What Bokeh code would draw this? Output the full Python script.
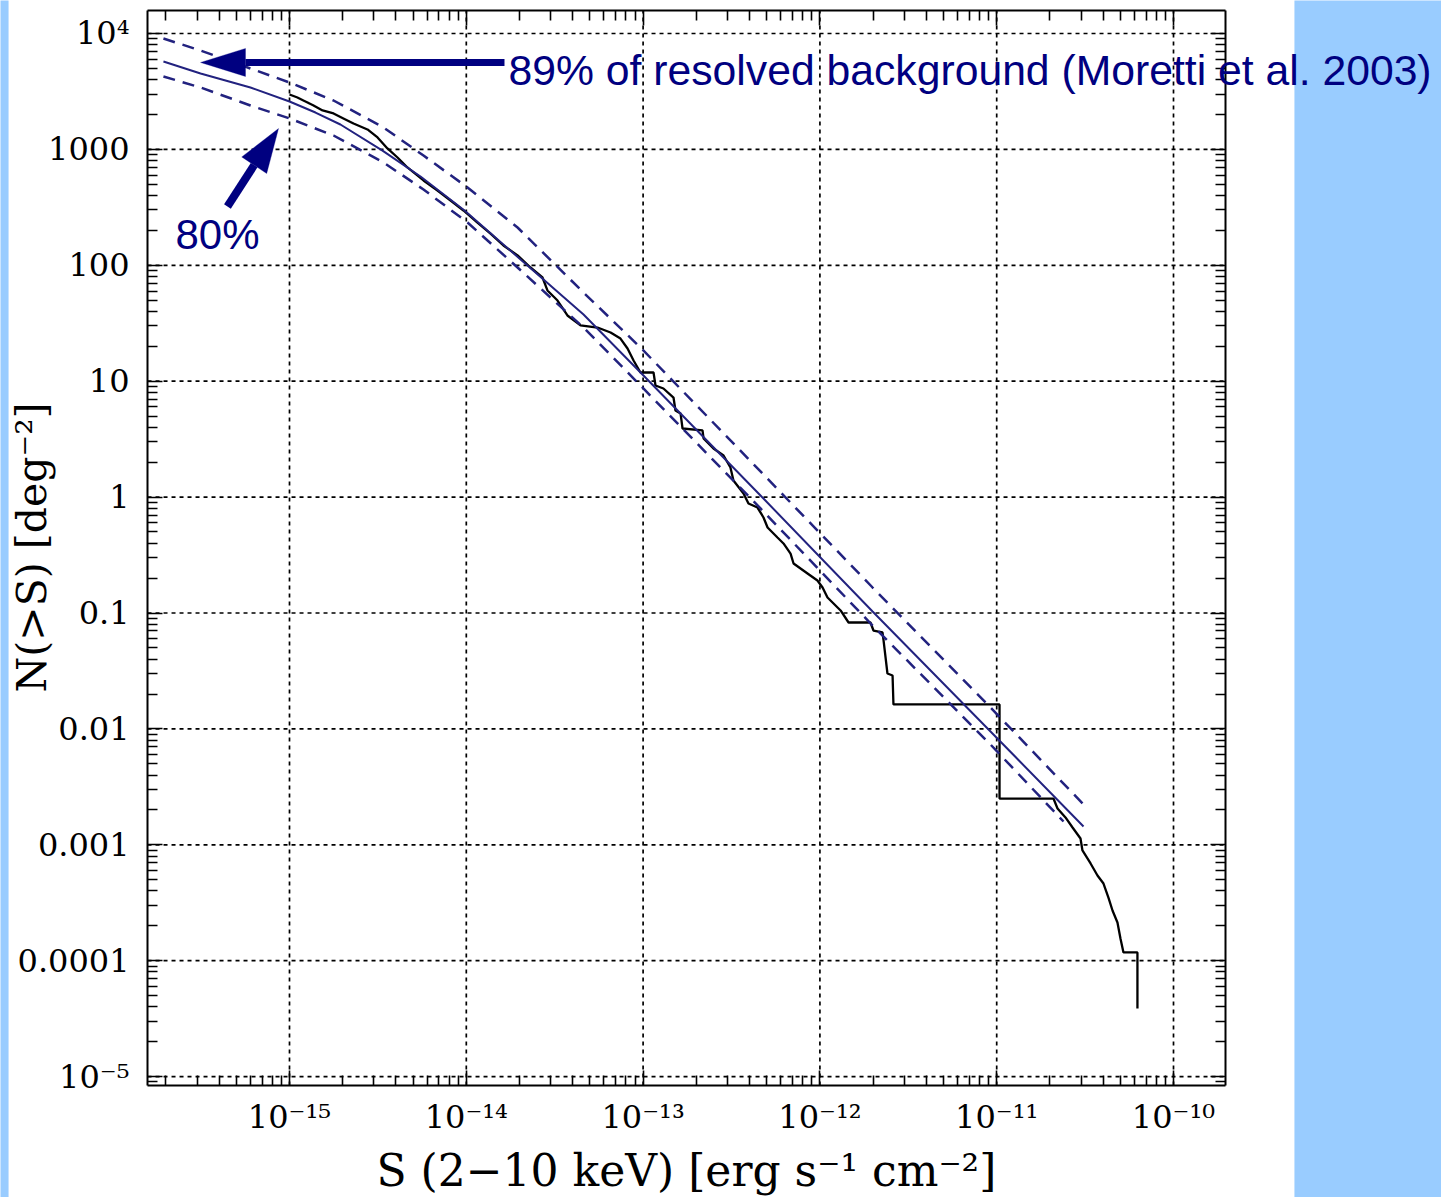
import numpy as np
from math import pi
from bokeh.plotting import figure
from bokeh.models import (Range1d, LogAxis, FixedTicker, CustomJSTickFormatter, Label,
                          PolyAnnotation, Arrow)
from bokeh.embed import file_html
from bokeh.resources import INLINE

# ---------------- data (log10 values) ----------------
data_log_s = [-15.000, -14.955, -14.921, -14.864, -14.813, -14.751, -14.695, -14.638, -14.559, -14.502,
              -14.446, -14.389, -14.333, -14.242, -14.163, -14.089, -14.016, -13.937, -13.863, -13.790,
              -13.710, -13.637, -13.569, -13.541, -13.484, -13.428, -13.354, -13.258, -13.184, -13.128,
              -13.088, -13.054, -13.015, -12.941, -12.930, -12.885, -12.828, -12.817, -12.788, -12.777,
              -12.664, -12.658, -12.602, -12.545, -12.506, -12.489, -12.432, -12.404, -12.353, -12.319,
              -12.296, -12.240, -12.206, -12.166, -12.149, -12.070, -12.014, -11.985, -11.957, -11.883,
              -11.838, -11.714, -11.697, -11.646, -11.640, -11.618, -11.589, -11.584, -10.984, -10.984,
              -10.679, -10.656, -10.611, -10.571, -10.526, -10.515, -10.469, -10.430, -10.396, -10.368,
              -10.345, -10.317, -10.300, -10.283, -10.204, -10.204]
data_log_n = [3.474, 3.448, 3.422, 3.379, 3.336, 3.310, 3.267, 3.223, 3.172, 3.103,
              3.008, 2.930, 2.844, 2.732, 2.645, 2.559, 2.473, 2.369, 2.274, 2.171,
              2.085, 1.981, 1.895, 1.783, 1.696, 1.567, 1.481, 1.463, 1.420, 1.368,
              1.282, 1.179, 1.075, 1.075, 0.963, 0.937, 0.859, 0.747, 0.721, 0.592,
              0.575, 0.506, 0.419, 0.359, 0.255, 0.143, 0.031, -0.055, -0.090, -0.176,
              -0.262, -0.349, -0.400, -0.487, -0.573, -0.659, -0.720, -0.780, -0.866, -0.978,
              -1.082, -1.082, -1.151, -1.168, -1.237, -1.522, -1.539, -1.789, -1.789, -2.601,
              -2.601, -2.687, -2.764, -2.851, -2.946, -3.049, -3.161, -3.265, -3.334, -3.455,
              -3.567, -3.670, -3.808, -3.929, -3.929, -4.412]

model_log_s = [-15.713, -15.503, -15.221, -15.000, -14.853, -14.712, -14.474, -14.259, -14.010, -13.654,
               -13.337, -13.009, -12.336, -11.702, -11.035, -10.509]
model_log_n = [3.758, 3.655, 3.534, 3.413, 3.318, 3.215, 2.990, 2.766, 2.473, 1.998,
               1.576, 1.066, 0.014, -0.987, -2.022, -2.842]

upper_log_s = [-15.713, -15.503, -15.000, -14.751, -14.468, -14.242, -13.993, -13.710, -13.337,
               -13.009, -12.336, -11.702, -11.035, -10.509]
upper_log_n = [3.957, 3.853, 3.577, 3.422, 3.189, 2.947, 2.671, 2.326, 1.765,
               1.282, 0.221, -0.780, -1.815, -2.652]

lower_log_s = [-15.713, -15.503, -15.221, -15.000, -14.751, -14.468, -14.242, -13.993, -13.710,
               -13.337, -13.009, -12.336, -11.702, -11.035, -10.622]
lower_log_n = [3.629, 3.534, 3.379, 3.267, 3.120, 2.887, 2.654, 2.369, 1.981,
               1.463, 0.954, -0.098, -1.108, -2.135, -2.799]

x_tick_exps = [-15, -14, -13, -12, -11, -10]
x_tick_labels = ["10⁻¹⁵", "10⁻¹⁴", "10⁻¹³", "10⁻¹²", "10⁻¹¹", "10⁻¹⁰"]
y_tick_exps = [-5, -4, -3, -2, -1, 0, 1, 2, 3, 4]
y_tick_labels = ["10⁻⁵", "0.0001", "0.001", "0.01", "0.1", "1", "10", "100", "1000", "10⁴"]

x_title = "S (2−10 keV) [erg s⁻¹ cm⁻²]"
y_title = "N(>S) [deg⁻²]"
note_main = "89% of resolved background (Moretti et al. 2003)"
note_small = "80%"

# ---------------- layout / styles ----------------
NAVY = "#000080"
LINE_BLUE = "#22227f"
PAGE_BLUE = "#99ccff"
SERIF = "DejaVu Serif"

# axes box (log10 of the data limits of the drawn box)
BOX_X = (-15.803, -9.706)
BOX_Y = (-5.077, 4.198)
# full canvas extent in log10 data units (the frame fills the canvas)
CAN_X = (-16.6346, -8.4842)
CAN_Y = (-6.0431, 4.2847)

p = figure(width=1441, height=1197, x_axis_type="log", y_axis_type="log",
           x_range=Range1d(10 ** CAN_X[0], 10 ** CAN_X[1]),
           y_range=Range1d(10 ** CAN_Y[0], 10 ** CAN_Y[1]),
           output_backend="svg", toolbar_location=None,
           min_border=0, min_border_left=0, min_border_right=0, min_border_top=0, min_border_bottom=0)
p.border_fill_color = "white"
p.background_fill_color = "white"
p.outline_line_color = None
p.xgrid.visible = False
p.ygrid.visible = False

# page side strips
p.quad(left=[10 ** (CAN_X[0] - 0.2), 10 ** -9.316], right=[10 ** -16.589, 10 ** (CAN_X[1] + 0.2)],
       bottom=[10 ** (CAN_Y[0] - 0.2)] * 2, top=[10 ** (CAN_Y[1] + 0.2)] * 2,
       fill_color=PAGE_BLUE, line_color=None, level="underlay")

xlo, xhi = 10 ** BOX_X[0], 10 ** BOX_X[1]
ylo, yhi = 10 ** BOX_Y[0], 10 ** BOX_Y[1]
x_minor = [v for v in (m * 10.0 ** k for k in range(-16, -9) for m in range(2, 10)) if xlo < v < xhi]
y_minor = [v for v in (m * 10.0 ** k for k in range(-6, 5) for m in range(2, 10)) if ylo < v < yhi]
x_ticker = FixedTicker(ticks=[10.0 ** e for e in x_tick_exps], minor_ticks=x_minor)
y_ticker = FixedTicker(ticks=[10.0 ** e for e in y_tick_exps], minor_ticks=y_minor)

fmt_code = """
const e = Math.round(Math.log10(tick));
const i = exps.indexOf(e);
return i >= 0 ? labels[i] : "";
"""
x_fmt = CustomJSTickFormatter(args=dict(exps=x_tick_exps, labels=x_tick_labels), code=fmt_code)
y_fmt = CustomJSTickFormatter(args=dict(exps=y_tick_exps, labels=y_tick_labels), code=fmt_code)
blank_fmt = CustomJSTickFormatter(code="return '';")

# dashed grid lines, limited to the axes box
gx = [10.0 ** e for e in x_tick_exps]
gy = [10.0 ** e for e in y_tick_exps]
p.segment(x0=gx, x1=gx, y0=[ylo] * len(gx), y1=[yhi] * len(gx),
          line_color="black", line_width=1.7, line_dash="4 4", level="underlay")
p.segment(x0=[xlo] * len(gy), x1=[xhi] * len(gy), y0=gy, y1=gy,
          line_color="black", line_width=1.7, line_dash="4 4", level="underlay")


def style_axis(ax, show, loc, bounds):
    ax.fixed_location = loc
    ax.bounds = bounds
    ax.axis_line_width = 2
    ax.axis_line_color = "black"
    ax.major_tick_in = 15
    ax.major_tick_out = 0
    ax.minor_tick_in = 10
    ax.minor_tick_out = 0
    ax.major_tick_line_width = 1.6
    ax.minor_tick_line_width = 1.6
    ax.major_tick_line_color = "black"
    ax.minor_tick_line_color = "black"
    if show:
        ax.major_label_text_font = SERIF
        ax.major_label_text_font_size = "32px"
        ax.major_label_text_color = "black"
    else:
        ax.major_label_text_font_size = "0px"
        ax.major_label_standoff = 0


xa = p.xaxis[0]
xa.ticker = x_ticker
xa.formatter = x_fmt
style_axis(xa, True, ylo, (xlo, xhi))
xa.major_label_standoff = 12

ya = p.yaxis[0]
ya.ticker = y_ticker
ya.formatter = y_fmt
style_axis(ya, True, xlo, (ylo, yhi))
ya.major_label_standoff = 18

top_ax = LogAxis(ticker=x_ticker, formatter=blank_fmt)
style_axis(top_ax, False, yhi, (xlo, xhi))
p.add_layout(top_ax, "above")
right_ax = LogAxis(ticker=y_ticker, formatter=blank_fmt)
style_axis(right_ax, False, xhi, (ylo, yhi))
p.add_layout(right_ax, "right")

# ---------------- curves ----------------
p.line(10 ** np.array(data_log_s), 10 ** np.array(data_log_n), line_color="black", line_width=2.3)
p.line(10 ** np.array(model_log_s), 10 ** np.array(model_log_n), line_color=LINE_BLUE, line_width=2)
p.line(10 ** np.array(upper_log_s), 10 ** np.array(upper_log_n), line_color=LINE_BLUE, line_width=2.5,
       line_dash="12 8")
p.line(10 ** np.array(lower_log_s), 10 ** np.array(lower_log_n), line_color=LINE_BLUE, line_width=2.5,
       line_dash="12 8")

# ---------------- annotations ----------------
p.add_layout(Arrow(end=None, x_start=10 ** -13.784, y_start=10 ** 3.75,
                   x_end=10 ** -15.249, y_end=10 ** 3.75, line_width=7, line_color=NAVY))
p.add_layout(PolyAnnotation(xs=[10 ** -15.503, 10 ** -15.249, 10 ** -15.249],
                            ys=[10 ** 3.75, 10 ** 3.871, 10 ** 3.629],
                            fill_color=NAVY, fill_alpha=1.0, line_color=NAVY, line_width=1))
p.add_layout(Arrow(end=None, x_start=10 ** -15.351, y_start=10 ** 2.507,
                   x_end=10 ** -15.200, y_end=10 ** 2.864, line_width=8, line_color=NAVY))
p.add_layout(PolyAnnotation(xs=[10 ** -15.062, 10 ** -15.129, 10 ** -15.270],
                            ys=[10 ** 3.180, 10 ** 2.792, 10 ** 2.935],
                            fill_color=NAVY, fill_alpha=1.0, line_color=NAVY, line_width=1))

p.add_layout(Label(x=10 ** -13.761, y=10 ** 3.681, text=note_main,
                   text_font="Liberation Sans", text_font_size="42.7px", text_color=NAVY,
                   text_align="left", text_baseline="alphabetic"))
p.add_layout(Label(x=10 ** -15.645, y=10 ** 2.266, text=note_small, text_font="Liberation Sans",
                   text_font_size="42px", text_color=NAVY, text_align="left", text_baseline="alphabetic"))

p.add_layout(Label(x=10 ** -12.755, y=10 ** -5.810, text=x_title, text_font=SERIF,
                   text_font_size="44px", text_color="black", text_align="center",
                   text_baseline="alphabetic"))
p.add_layout(Label(x=10 ** -16.459, y=10 ** -0.435, text=y_title, text_font=SERIF,
                   text_font_size="41px", text_color="black", text_align="center",
                   text_baseline="alphabetic", angle=pi / 2))

open("out.html", "w").write(file_html(p, INLINE))
